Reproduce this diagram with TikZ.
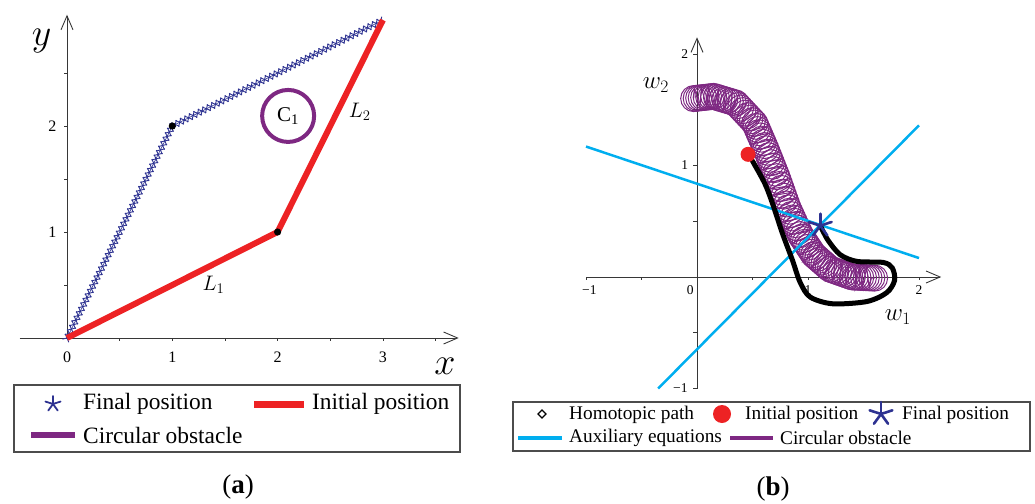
\RequirePackage{fix-cm}
\documentclass[tikz,border=0pt]{standalone}
\usepackage{fontspec}
\setmainfont{Liberation Serif}
\usepackage{xcolor}
\usetikzlibrary{arrows.meta,calc,decorations.markings,decorations.pathmorphing}

\definecolor{finalblue}{RGB}{45,50,145}
\definecolor{initred}{RGB}{237,34,36}
\definecolor{obstpurple}{RGB}{126,40,130}
\definecolor{auxcyan}{RGB}{0,174,239}
\definecolor{axisgray}{RGB}{55,55,55}

\newcommand{\starmark}[3]{%
  \foreach \ang in {90,162,234,306,378}
    \draw[finalblue, line width=#3, line cap=round] (#1) -- ++(\ang:#2);}

\tikzset{
  axis/.style={axisgray, line width=0.9pt, -{Straight Barb[length=14pt,width=12pt]}},
  tickmark/.style={axisgray, line width=0.6pt},
  ticklabel/.style={inner sep=0pt, font=\fontsize{16}{16}\selectfont},
  smalllabel/.style={inner sep=0pt, font=\fontsize{13.5}{14}\selectfont},
  legtext/.style={anchor=west, inner sep=0pt, font=\fontsize{23.4}{25}\selectfont},
  legtextb/.style={anchor=west, inner sep=0pt, font=\fontsize{19.3}{21}\selectfont},
  legbox/.style={draw=gray!60!black, line width=1.2pt},
  caption/.style={inner sep=0pt, font=\fontsize{27}{28}\selectfont},
  obstring/.style={obstpurple, line width=1pt},
}

\begin{document}
\begin{tikzpicture}[x=1pt, y=-1pt]
  \useasboundingbox (0,0) rectangle (1035,503);

  % (a) initial and final positions
  \begin{scope}[shift={(67,338)}, x=105.3pt, y=106pt]
    \coordinate (O) at (0,0);
    \coordinate (A1) at (1,2);
    \coordinate (B1) at (2,1);
    \coordinate (E) at (3,3);
    \coordinate (C1) at (2.1,2.095);
    \draw[axis] (-0.45,0) -- (3.72,0);
    \draw[axis] (0,0) -- (0,3.05);
    \foreach \t in {0.5,1,...,3.5} \draw[tickmark] (\t,0) -- ++(0pt,-3pt);
    \foreach \t in {0.5,1,...,2.5} \draw[tickmark] (0,\t) -- ++(-3pt,0pt);
    \foreach \t in {0,1,2,3} \node[ticklabel] (xa\t) at (\t,-0.18) {\t};
    \foreach \t in {1,2} \node[ticklabel] (ya\t) at (-0.14,\t) {\t};
    \node[font=\fontsize{38}{38}\selectfont] (ylab) at (-0.24,2.8) {$y$};
    \node[font=\fontsize{38}{38}\selectfont] (xlab) at (3.59,-0.27) {$x$};
    \draw[finalblue, line width=0.6pt, postaction={decorate},
      decoration={markings, mark=between positions 0 and 1 step 5pt with
        {\draw[finalblue, line width=0.9pt] (-3pt,-3.5pt) -- (3pt,3.5pt) (-3pt,3.5pt) -- (3pt,-3.5pt);}}]
      (O) -- (A1) -- (E);
    \draw[initred, line width=6pt, line join=round] (O) -- (B1) -- (E);
    \fill (A1) circle (3.6pt);
    \fill (B1) circle (3.6pt);
    \draw[obstpurple, line width=4pt] (C1) circle (26pt);
    \node[font=\fontsize{21}{21}\selectfont] (c1lab) at (C1) {C\textsubscript{1}};
    \node[font=\fontsize{21}{21}\selectfont] (l1lab) at (1.39,0.5) {$L_1$};
    \node[font=\fontsize{21}{21}\selectfont] (l2lab) at (2.78,2.13) {$L_2$};
  \end{scope}

  % (a) legend
  \draw[legbox] (14,385) rectangle (460,452);
  \coordinate (sa) at (53,404);
  \starmark{sa}{8pt}{1.8pt}
  \node[legtext] (fa) at (83,404) {Final position};
  \draw[initred, line width=7pt] (254,404) -- (304,404);
  \node[legtext] (ia) at (312,404) {Initial position};
  \draw[obstpurple, line width=6pt] (31,435) -- (75,435);
  \node[legtext] (oa) at (83,435) {Circular obstacle};
  \node[caption] (capa) at (238,487) {(\textbf{a})};

  % (b) homotopic path
  \begin{scope}[shift={(697,277)}, x=111pt, y=111.5pt]
    \coordinate (S) at (0.46,1.1);
    \coordinate (F) at (1.11,0.46);
    \draw[axis] (-1,0) -- (2.2,0);
    \draw[axis] (0,-1) -- (0,2.15);
    \foreach \t in {-1,-0.5,0.5,1,1.5,2} \draw[tickmark] (\t,0) -- ++(0pt,-3pt);
    \foreach \t in {-1,-0.5,0.5,1,1.5,2} \draw[tickmark] (0,\t) -- ++(-4pt,0pt);
    \node[smalllabel] (xb0) at (-0.97,-0.12) {−1};
    \node[smalllabel] (xb1) at (1,-0.12) {1};
    \node[smalllabel] (xb2) at (2,-0.12) {2};
    \node[smalllabel] (ob) at (-0.06,-0.12) {0};
    \node[smalllabel] (yb0) at (-0.15,-1) {−1};
    \node[smalllabel] (yb1) at (-0.11,1) {1};
    \node[smalllabel] (yb2) at (-0.11,2) {2};
    % obstacle swept along the curve
    \foreach \i/\p in {0/{-0.03,1.6}, 1/{0.15,1.62}, 2/{0.35,1.56}, 3/{0.52,1.38}, 4/{0.62,1.15},
        5/{0.72,0.9}, 6/{0.82,0.62}, 7/{0.93,0.38}, 8/{1.05,0.2}, 9/{1.2,0.07}, 10/{1.4,0.0}, 11/{1.6,-0.01}}
      \coordinate (c\i) at (\p);
    \foreach \i [count=\j from 1] in {0,...,10}
      \foreach \t in {0,0.125,...,0.9}
        \draw[obstring] ($(c\i)!\t!(c\j)$) circle (13pt);
    \draw[obstring] (c11) circle (13pt);
    \draw[obstring, decorate, decoration={zigzag, segment length=7pt, amplitude=10pt}]
      (c0) -- (c1) -- (c2) -- (c3) -- (c4) -- (c5) -- (c6) -- (c7) -- (c8) -- (c9) -- (c10) -- (c11);
    % auxiliary equations
    \draw[auxcyan, line width=2.5pt] (-1,1.17) -- (2,0.17);
    \draw[auxcyan, line width=2.5pt] (-0.35,-1) -- (2,1.36);
    \draw[black, line width=5pt, line cap=round]
      plot[smooth] coordinates {(0.5,1.04) (0.61,0.84) (0.68,0.66) (0.77,0.39) (0.86,0.15) (0.93,-0.05)
        (1.02,-0.18) (1.22,-0.24) (1.53,-0.22) (1.71,-0.14) (1.78,-0.03) (1.76,0.08) (1.68,0.13)
        (1.44,0.14) (1.29,0.2) (1.18,0.33) (1.11,0.46)};
    \fill[initred] (S) circle (7.5pt);
    \starmark{F}{12pt}{2.6pt}
    \node[font=\fontsize{25}{25}\selectfont] (w2lab) at (-0.37,1.72) {$w_2$};
    \node[font=\fontsize{25}{25}\selectfont] (w1lab) at (1.81,-0.36) {$w_1$};
  \end{scope}

  % (b) legend
  \draw[legbox] (513,402) rectangle (1030,451);
  \draw[line width=1.2pt] (542,410) -- (546,414) -- (542,418) -- (538,414) -- cycle;
  \node[legtextb] (hb) at (569,415) {Homotopic path};
  \fill[initred] (722,414) circle (9pt);
  \node[legtextb] (ib) at (745,415) {Initial position};
  \coordinate (sb) at (881,414);
  \starmark{sb}{12pt}{2.6pt}
  \node[legtextb] (fb) at (902,415) {Final position};
  \draw[auxcyan, line width=4pt] (518,438) -- (562,438);
  \node[legtextb] (ab) at (569,438) {Auxiliary equations};
  \draw[obstpurple, line width=4pt] (730,438) -- (773,438);
  \node[legtextb] (obb) at (780,438) {Circular obstacle};
  \node[caption] (capb) at (773,489) {(\textbf{b})};
\end{tikzpicture}
\end{document}
